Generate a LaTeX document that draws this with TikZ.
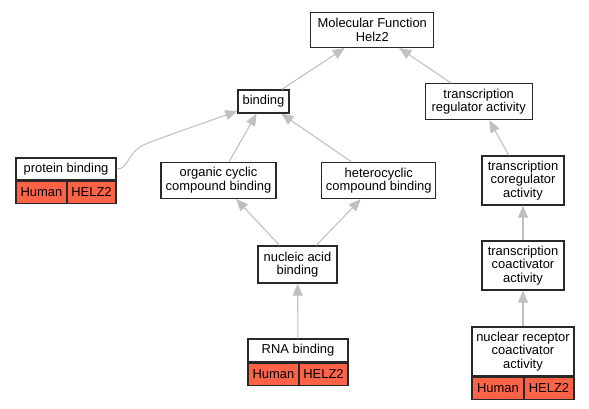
\documentclass[tikz,border=0pt]{standalone}
\usepackage{fontspec}
\setmainfont{Liberation Sans}
\usetikzlibrary{arrows.meta}
\definecolor{tomate}{RGB}{255,99,71}
\definecolor{gris}{RGB}{192,192,192}
\definecolor{borde}{RGB}{40,40,40}
\newcommand{\termfont}{\fontsize{9.7}{10}\selectfont}

\begin{document}
\begin{tikzpicture}[x=0.75pt, y=-0.75pt,
    term/.style={draw=borde, line width=1pt, fill=white, align=center,
      font=\termfont, inner sep=0pt},
    gene/.style={draw=borde, line width=1pt, fill=tomate, font=\termfont,
      inner sep=0pt, minimum height=16.5pt},
    isa/.style={draw=gris, line width=0.8pt,
      -{Triangle[length=9pt, width=7.5pt]}}]
    \useasboundingbox (0,0) rectangle (589,408);

    % Términos
    \foreach \n/\x/\y/\w/\h/\txt in {
      mf/372.3/29.8/123/35/Molecular Function\\Helz2,
      bind/263.5/101.5/51/23/binding,
      treg/478.7/101.7/107/36/transcription\\regulator activity,
      orgc/218.5/180.3/115/36/organic cyclic\\compound binding,
      hetc/378.8/180.6/114/36/heterocyclic\\compound binding,
      tcoreg/523/180.5/82/49/transcription\\coregulator\\activity,
      nucl/297.5/264.5/79/37/nucleic acid\\binding,
      tcoact/523/265.5/82/49/transcription\\coactivator\\activity
    } {
      \node[term, minimum width=\w*0.75pt, minimum height=\h*0.75pt]
        (\n) at (\x,\y) {\txt};
    }

    % Términos con anotación
    \foreach \n/\x/\y/\w/\h/\hw/\txt in {
      prot/66/169/100/22/51/protein binding,
      rna/298/350.5/100/23/51/RNA binding,
      nrc/523/351.5/102/49/52/nuclear receptor\\coactivator\\activity
    } {
      \node[term, minimum width=\w*0.75pt, minimum height=\h*0.75pt]
        (\n) at (\x,\y) {\txt};
      \node[gene, minimum width=\hw*0.75pt, anchor=north west]
        (\n-sp) at (\n.south west) {Human};
      \node[gene, minimum width=(\w-\hw)*0.75pt, anchor=north east]
        (\n-gn) at (\n.south east) {HELZ2};
    }

    % Relaciones
    \foreach \a/\b in {bind/mf, treg/mf, orgc/bind, hetc/bind, nucl/orgc,
      nucl/hetc, rna/nucl, tcoreg/treg, tcoact/tcoreg, nrc/tcoact} {
      \draw[isa] (\a) -- (\b);
    }
    \draw[isa] (prot.east) .. controls (130,169) and (126,151) .. (148,143)
      .. controls (180,131) and (215,119) .. ([yshift=2pt]bind.south west);
\end{tikzpicture}
\end{document}
